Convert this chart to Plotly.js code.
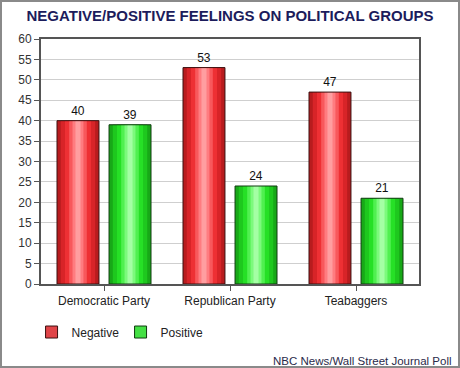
<!DOCTYPE html>
<html>
<head>
<meta charset="utf-8">
<script src="https://cdn.plot.ly/plotly-3.0.1.min.js"></script>
<style>
html,body{margin:0;padding:0;background:#fff;}
#wrap{position:relative;width:460px;height:368px;}
#chart{width:460px;height:368px;}
#frame{position:absolute;left:0;top:0;width:460px;height:368px;box-sizing:border-box;border:2px solid #8a8a8a;pointer-events:none;}
</style>
</head>
<body>
<div id="wrap"><div id="chart"></div><div id="frame"></div></div>
<script>
const categories = ['Democratic Party', 'Republican Party', 'Teabaggers'];
const negativeValues = [40, 53, 47];
const positiveValues = [39, 24, 21];
const seriesNames = ['Negative', 'Positive'];
const yTicks = [0, 5, 10, 15, 20, 25, 30, 35, 40, 45, 50, 55, 60];

const font = 'Arial, "Liberation Sans", sans-serif';

// bar geometry in category units
const barWidth = 0.333;
const innerGap = 0.08;
const groupStart = -(barWidth + innerGap / 2);

// gradient bands: [fraction of bar width, colour]
const redBands = [[1.0, '#b81c1e'], [0.82, '#d82428'], [0.62, '#ee3034'], [0.42, '#f8585c'], [0.26, '#ff7c80'], [0.12, '#ff9ea0']];
const greenBands = [[1.0, '#18a818'], [0.82, '#1ec81e'], [0.62, '#26e026'], [0.42, '#50f050'], [0.26, '#7cfa7c'], [0.12, '#a4ffa4']];

function seriesTraces(name, values, offset, bands, legendColor, edge) {
  const out = [];
  bands.forEach(([frac, col]) => {
    const w = barWidth * frac;
    const center = offset + barWidth * 0.5;
    out.push({
      type: 'bar', name: name, x: categories, y: values,
      offset: center - w / 2, width: w,
      marker: {color: col, line: {width: 0}},
      showlegend: false, hoverinfo: 'skip'
    });
  });
  // outline + labels
  out.push({
    type: 'bar', name: name, x: categories, y: values,
    offset: offset, width: barWidth,
    marker: {color: 'rgba(0,0,0,0)', line: {color: edge, width: 1}},
    text: values.map(String), textposition: 'outside', cliponaxis: false,
    textfont: {family: font, size: 12, color: '#111'},
    showlegend: false
  });
  // legend-only entry
  out.push({
    type: 'bar', name: name, x: [categories[0]], y: [null],
    marker: {color: legendColor, line: {color: edge, width: 1}},
    showlegend: true
  });
  return out;
}

const traces = [
  ...seriesTraces(seriesNames[0], negativeValues, groupStart, redBands, '#e04448', '#3a1010'),
  ...seriesTraces(seriesNames[1], positiveValues, innerGap / 2, greenBands, '#44e044', '#103a10')
];

const layout = {
  width: 460, height: 368,
  margin: {l: 41, r: 41, t: 39, b: 84},
  paper_bgcolor: '#fff', plot_bgcolor: '#fff',
  barmode: 'overlay',
  title: {
    text: '<b>NEGATIVE/POSITIVE FEELINGS ON POLITICAL GROUPS</b>',
    font: {family: font, size: 15, color: '#1c1c5c'},
    x: 0.5, xanchor: 'center', xref: 'container',
    y: 1 - 16/368, yanchor: 'middle', yref: 'container'
  },
  xaxis: {
    type: 'category', showline: true, linecolor: '#555', linewidth: 2, mirror: true,
    ticks: 'outside', ticklen: 5, tickcolor: '#555', tickwidth: 1,
    tickfont: {family: font, size: 12, color: '#222'}, showgrid: false,
    range: [-0.5, categories.length - 0.5]
  },
  yaxis: {
    range: [0, 60], tickvals: yTicks, ticktext: yTicks.map(String),
    showline: true, linecolor: '#555', linewidth: 2, mirror: true,
    ticks: 'outside', ticklen: 5, tickcolor: '#555',
    gridcolor: '#cfcfcf', gridwidth: 1, zeroline: false,
    tickfont: {family: font, size: 12, color: '#333'}
  },
  showlegend: true,
  legend: {
    orientation: 'h', x: -0.025, xanchor: 'left', y: -0.196, yanchor: 'middle',
    font: {family: font, size: 12, color: '#222'},
    entrywidth: 44, entrywidthmode: 'pixels', traceorder: 'normal'
  },
  annotations: [{
    text: 'NBC News/Wall Street Journal Poll', showarrow: false,
    xref: 'paper', yref: 'paper', x: (454 - 41)/378, y: (284 - 361)/245,
    xanchor: 'right', yanchor: 'middle',
    font: {family: font, size: 11.5, color: '#2a2a4a'}
  }]
};

Plotly.newPlot('chart', traces, layout, {displayModeBar: false, staticPlot: true});
</script>
</body>
</html>
